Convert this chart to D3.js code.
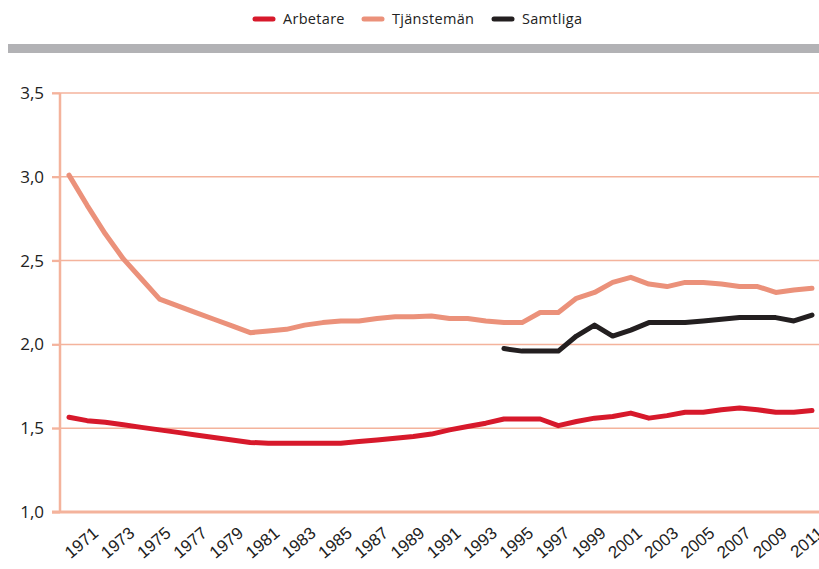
<!doctype html>
<html>
<head>
<meta charset="utf-8">
<style>
  body { margin: 0; background: #fff; }
  svg { display: block; font-family: "Open Sans", "DejaVu Sans", sans-serif; }
</style>
<script src="https://d3js.org/d3.v7.min.js"></script>
</head>
<body>
<svg width="819" height="569"></svg>
<script>
// data
var years = d3.range(1970, 2012);
var arbetare = [1.565, 1.545, 1.535, 1.52, 1.505, 1.49, 1.475, 1.46, 1.445, 1.43,
                1.415, 1.41, 1.41, 1.41, 1.41, 1.41, 1.42, 1.43, 1.44, 1.45,
                1.465, 1.49, 1.51, 1.53, 1.555, 1.555, 1.555, 1.515, 1.54, 1.56,
                1.57, 1.59, 1.56, 1.575, 1.595, 1.595, 1.61, 1.62, 1.61, 1.595,
                1.595, 1.605];
var tjansteman = [3.01, 2.83, 2.66, 2.51, 2.39, 2.27, 2.23, 2.19, 2.15, 2.11,
                  2.07, 2.08, 2.09, 2.115, 2.13, 2.14, 2.14, 2.155, 2.165, 2.165,
                  2.17, 2.155, 2.155, 2.14, 2.13, 2.13, 2.19, 2.19, 2.275, 2.31,
                  2.37, 2.40, 2.36, 2.345, 2.37, 2.37, 2.36, 2.345, 2.345, 2.31,
                  2.325, 2.335];
var samtligaYears = d3.range(1994, 2012);
var samtliga = [1.975, 1.96, 1.96, 1.96, 2.05, 2.115, 2.05, 2.085, 2.13, 2.13,
                2.13, 2.14, 2.15, 2.16, 2.16, 2.16, 2.14, 2.175];
var yTicks = [1.0, 1.5, 2.0, 2.5, 3.0, 3.5];
var xTickYears = d3.range(1971, 2012, 2);

var seriesNames = ["Arbetare", "Tjänstemän", "Samtliga"];
var colors = ["#d7192b", "#eb917a", "#231f20"];

var svg = d3.select("svg");

var x = d3.scaleLinear().domain([1970, 2011]).range([69, 812]);
var y = d3.scaleLinear().domain([1, 3.5]).range([512, 93]);

var gridColor = "#f4b39c";

// grey band under the legend
svg.append("rect")
   .attr("x", 8).attr("y", 44)
   .attr("width", 811).attr("height", 9)
   .attr("fill", "#b2b2b5");

// legend
var legendX = [253, 362, 492];
var leg = svg.selectAll(".leg")
   .data(seriesNames)
   .enter().append("g")
   .attr("class", "leg")
   .attr("transform", function(d, i) { return "translate(" + legendX[i] + ",19)"; });
leg.append("line")
   .attr("x1", 2).attr("x2", 20)
   .attr("stroke", function(d, i) { return colors[i]; })
   .attr("stroke-width", 5)
   .attr("stroke-linecap", "round");
leg.append("text")
   .attr("x", 30).attr("y", 5)
   .attr("font-size", "14.5px")
   .attr("fill", "#222")
   .attr("letter-spacing", "0.3px")
   .text(function(d) { return d; });

// horizontal grid
svg.append("g")
   .selectAll("line")
   .data(yTicks.slice(1))
   .enter().append("line")
   .attr("x1", 52).attr("x2", 819)
   .attr("y1", function(d) { return y(d); })
   .attr("y2", function(d) { return y(d); })
   .attr("stroke", gridColor)
   .attr("stroke-width", 1.5);

// y axis
var yAxis = svg.append("g")
   .attr("transform", "translate(60,0)")
   .call(d3.axisLeft(y).tickValues(yTicks).tickSize(8).tickPadding(8)
         .tickFormat(function(d) { return d3.format(".1f")(d).replace(".", ","); }));
yAxis.select(".domain").remove();
yAxis.selectAll(".tick line").attr("stroke", gridColor).attr("stroke-width", 2);
yAxis.selectAll(".tick text")
   .attr("font-size", "17px")
   .attr("fill", "#222")
   .attr("font-family", "'Open Sans', sans-serif");

svg.append("line")
   .attr("x1", 60).attr("x2", 60)
   .attr("y1", y(3.5)).attr("y2", y(1))
   .attr("stroke", gridColor)
   .attr("stroke-width", 2.5);

// x axis
svg.append("line")
   .attr("x1", 52).attr("x2", 819)
   .attr("y1", y(1)).attr("y2", y(1))
   .attr("stroke", gridColor)
   .attr("stroke-width", 3);

var xAxis = svg.append("g")
   .attr("transform", "translate(0," + y(1) + ")")
   .call(d3.axisBottom(x).tickValues(xTickYears).tickSize(0)
         .tickFormat(d3.format("d")));
xAxis.select(".domain").remove();
xAxis.selectAll(".tick text")
   .attr("font-size", "17px")
   .attr("fill", "#222")
   .attr("text-anchor", "end")
   .attr("y", 0).attr("dy", 0)
   .attr("transform", "translate(12,23) rotate(-40)");

// lines
var line = d3.line()
   .x(function(d) { return x(d[0]); })
   .y(function(d) { return y(d[1]); });

var lineData = [
  years.map(function(yr, i) { return [yr, arbetare[i]]; }),
  years.map(function(yr, i) { return [yr, tjansteman[i]]; }),
  samtligaYears.map(function(yr, i) { return [yr, samtliga[i]]; })
];

svg.append("g")
   .selectAll("path")
   .data(lineData)
   .enter().append("path")
   .attr("d", line)
   .attr("fill", "none")
   .attr("stroke", function(d, i) { return colors[i]; })
   .attr("stroke-width", 5)
   .attr("stroke-linejoin", "round")
   .attr("stroke-linecap", "round");
</script>
</body>
</html>
